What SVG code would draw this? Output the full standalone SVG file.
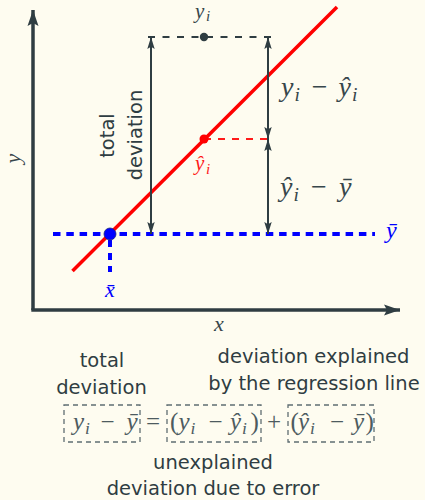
<svg xmlns="http://www.w3.org/2000/svg" width="425" height="500" viewBox="0 0 425 500">
<defs>
<style>
.sans{font-family:"DejaVu Sans",sans-serif;font-size:19.5px;fill:#2f3d42;text-anchor:middle}
.mi{font-family:"Liberation Serif","DejaVu Serif",serif;font-style:italic}
.mu{font-family:"Liberation Serif","DejaVu Serif",serif}
.dk{fill:#37464b}
.eq{fill:#4d5b60}
.arr{stroke:#2f3d42;stroke-width:2;fill:none;marker-start:url(#ah);marker-end:url(#ah)}
.box{fill:none;stroke:#5f6d71;stroke-width:1.3;stroke-dasharray:5 4}
</style>
<marker id="ah" markerUnits="userSpaceOnUse" markerWidth="14" markerHeight="10" refX="12" refY="4" orient="auto-start-reverse">
<path d="M0,0.3 L12,4 L0,7.7 L2.2,4 z" fill="#2f3d42"/>
</marker>
<marker id="axh" markerUnits="userSpaceOnUse" markerWidth="18" markerHeight="12" refX="16" refY="6" orient="auto">
<path d="M0,0.5 L16,6 L0,11.5 L3,6 z" fill="#2f3d42"/>
</marker>
</defs>
<rect width="425" height="500" fill="#fefcf0"/>

<g id="axes">
<path d="M33,310 V10" stroke="#2f3d42" stroke-width="3.5" fill="none" marker-end="url(#axh)"/>
<path d="M31.3,310 H400" stroke="#2f3d42" stroke-width="3.5" fill="none" marker-end="url(#axh)"/>
</g>

<g id="connectors">
<path d="M148,37 H272" stroke="#2f3d42" stroke-width="2" stroke-dasharray="7 7.5" fill="none"/>
<path d="M204,139 H272" stroke="#ff1a1a" stroke-width="2.2" stroke-dasharray="7 7" fill="none"/>
<path d="M53,234 H375" stroke="#0000ff" stroke-width="4" stroke-dasharray="7.5 5.8" fill="none"/>
<path d="M110,240 V272" stroke="#0000ff" stroke-width="4" stroke-dasharray="7 6" fill="none"/>
<path d="M72.5,271 L337,7" stroke="#ff0000" stroke-width="3.5" fill="none"/>
<path class="arr" d="M151,37 V234"/>
<path class="arr" d="M268,37 V139"/>
<path class="arr" d="M268,139 V234"/>
</g>

<g id="points">
<circle cx="204" cy="37" r="4.2" fill="#2f3d42"/>
<circle cx="204" cy="139" r="4.5" fill="#ff0000"/>
<circle cx="110" cy="234" r="6" fill="#0000ff" stroke="#1a237e" stroke-width="0.8"/>
</g>

<g id="axis-labels">
<text class="mi dk" font-size="22" x="219" y="331" text-anchor="middle">x</text>
<text class="mi dk" font-size="22" transform="translate(20,158.5) rotate(-90)" text-anchor="middle">y</text>
</g>

<g id="label-yi">
<text class="mi dk" font-size="21"><tspan x="195" y="17.5">y</tspan><tspan x="206" y="21" font-size="15">i</tspan></text>
</g>

<g id="label-yhat">
<text class="mi" font-size="21" fill="#ff1a1a"><tspan x="195" y="170">ŷ</tspan><tspan x="206" y="174" font-size="15">i</tspan></text>
</g>

<g id="label-ybar">
<text class="mi" font-size="24" fill="#0000ff" x="386" y="238">ȳ</text>
</g>

<g id="label-xbar">
<text class="mi" font-size="22" fill="#0000ff" x="110" y="297" text-anchor="middle">x̄</text>
</g>

<g id="label-resid">
<text class="mi dk" font-size="28"><tspan x="281" y="96">y</tspan><tspan x="294.5" y="101" font-size="19.5">i</tspan><tspan x="338.5" y="96">ŷ</tspan><tspan x="352" y="101" font-size="19.5">i</tspan></text>
<text class="mu dk" font-size="28" x="319.6" y="96" text-anchor="middle">−</text>
</g>

<g id="label-explained">
<text class="mi dk" font-size="28"><tspan x="280" y="196">ŷ</tspan><tspan x="293.5" y="201" font-size="19.5">i</tspan><tspan x="339" y="196">ȳ</tspan></text>
<text class="mu dk" font-size="28" x="319" y="196" text-anchor="middle">−</text>
</g>

<g id="label-total-rot">
<text class="sans" transform="translate(114,135.5) rotate(-90)">total</text>
<text class="sans" transform="translate(142,135) rotate(-90)">deviation</text>
</g>

<g id="captions">
<text class="sans" x="102" y="366.7">total</text>
<text class="sans" x="101.5" y="394">deviation</text>
<text class="sans" x="313.5" y="362.7">deviation explained</text>
<text class="sans" x="314" y="390">by the regression line</text>
<text class="sans" x="213" y="469">unexplained</text>
<text class="sans" x="213" y="495">deviation due to error</text>
</g>

<g id="equation">
<rect class="box" x="64" y="405" width="76" height="37"/>
<rect class="box" x="167" y="405" width="94" height="37"/>
<rect class="box" x="288" y="405" width="86" height="37"/>
<text class="mi eq" font-size="25"><tspan x="73" y="429.5">y</tspan><tspan x="85" y="434" font-size="17.5">i</tspan><tspan x="126.5" y="429.5">ȳ</tspan><tspan x="178.5" y="429.5">y</tspan><tspan x="190.5" y="434" font-size="17.5">i</tspan><tspan x="230" y="429.5">ŷ</tspan><tspan x="242" y="434" font-size="17.5">i</tspan><tspan x="298" y="429.5">ŷ</tspan><tspan x="310" y="434" font-size="17.5">i</tspan><tspan x="353" y="429.5">ȳ</tspan></text>
<text class="mu eq" font-size="25" text-anchor="middle"><tspan x="107.5" y="429.5">−</tspan><tspan x="153" y="429.5">=</tspan><tspan x="215.5" y="429.5">−</tspan><tspan x="274" y="429.5">+</tspan><tspan x="337" y="429.5">−</tspan></text>
<text class="mu eq" font-size="25"><tspan x="170" y="429.5">(</tspan><tspan x="250.5" y="429.5">)</tspan><tspan x="290.5" y="429.5">(</tspan><tspan x="365.5" y="429.5">)</tspan></text>
</g>
</svg>
